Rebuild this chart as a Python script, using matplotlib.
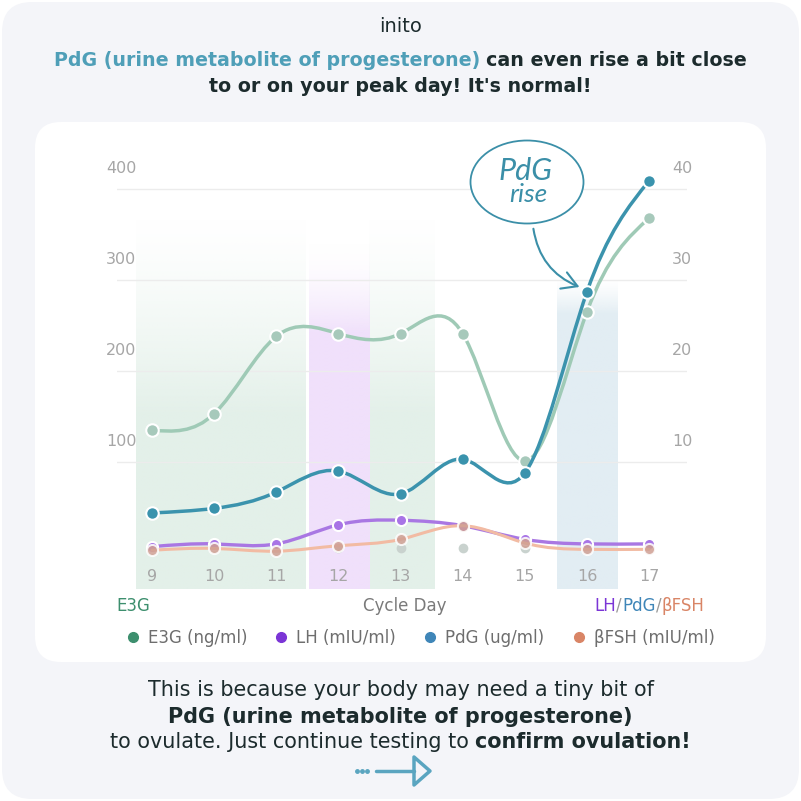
import numpy as np
import matplotlib
matplotlib.use("Agg")
import matplotlib.pyplot as plt
from matplotlib.path import Path
from matplotlib.patches import PathPatch, FancyBboxPatch, Ellipse, FancyArrowPatch, Polygon
from matplotlib.lines import Line2D
from matplotlib.colors import to_rgb

plt.rcParams['font.family'] = ['DejaVu Sans']

# --- data ---
days = [9, 10, 11, 12, 13, 14, 15, 16, 17]
e3g = [135, 153, 238, 241, 241, 241, 101, 265, 368]      # ng/ml, left axis
pdg = [4.4, 4.9, 6.7, 9.0, 6.5, 10.3, 8.8, 28.7, 40.9]   # ug/ml, right axis
lh = [0.7, 1.0, 1.0, 3.1, 3.6, 3.0, 1.5, 1.0, 1.0]       # mIU/ml, right axis
fsh = [0.3, 0.5, 0.2, 0.8, 1.5, 3.0, 1.1, 0.4, 0.4]      # mIU/ml, right axis
grey_days = [12, 13, 14, 15]
grey_vals = [0.6, 0.6, 0.6, 0.6]
left_ticks = [100, 200, 300, 400]
right_ticks = [10, 20, 30, 40]

TEAL = '#4f9fb8'
DARK = '#1c2b2d'
GREY = '#a6a6a6'

W = 801
fig = plt.figure(figsize=(8.01, 8.01), dpi=100)
fig.patch.set_facecolor('white')

# background in pixel coords
bg = fig.add_axes([0, 0, 1, 1], zorder=-10)
bg.set_xlim(0, W); bg.set_ylim(W, 0); bg.axis('off')
bg.add_patch(FancyBboxPatch((2, 2), 797, 797, boxstyle='round,pad=0,rounding_size=30',
                            fc='#f4f5f9', ec='none'))
bg.add_patch(FancyBboxPatch((35, 122), 731, 540, boxstyle='round,pad=0,rounding_size=26',
                            fc='white', ec='none'))

# main axes: pixel box 117..687 x, 140..589 y
ax = fig.add_axes([117 / W, 1 - 589 / W, 570 / W, 449 / W], zorder=1)
ax.patch.set_visible(False)
for s in ax.spines.values():
    s.set_visible(False)
ax.set_xticks([]); ax.set_yticks([])

ax2 = ax.twinx()
ax2.set_ylim(-3.956, 45.38)
for s in ax2.spines.values():
    s.set_visible(False)
ax2.set_yticks([])
ax2.set_zorder(2)
ax2.patch.set_visible(False)

YLIM = (-39.56, 453.8)


def band(x0, x1, y_top, y_full, color, power=1.3):
    y0 = YLIM[0]
    n = 300
    ys = np.linspace(y_top, y0, n)
    alpha = np.clip((y_top - ys) / (y_top - y_full), 0, 1) ** power
    img = np.zeros((n, 1, 4))
    img[:, 0, :3] = to_rgb(color)
    img[:, 0, 3] = alpha
    ax.imshow(img, extent=(x0, x1, y0, y_top), aspect='auto', origin='upper',
              interpolation='bilinear', zorder=0)


band(8.75, 11.48, 369, 150, '#e3f0e9')
band(12.5, 13.56, 369, 150, '#e3f0e9')
band(11.52, 12.5, 344, 241, '#f0e0fb', power=1.8)
band(15.52, 16.49, 300, 262, '#e2edf3')
ax.set_xlim(8.437, 17.61)
ax.set_ylim(*YLIM)

for v in left_ticks:
    ax.axhline(v, color='#ececec', lw=1, zorder=1)
    ax.annotate(str(v), xy=(0, v), xycoords=('axes fraction', 'data'), xytext=(3, 14.4),
                textcoords='offset points', ha='center', va='center', fontsize=11.5, color=GREY)
for v in right_ticks:
    ax2.annotate(str(v), xy=(1, v), xycoords=('axes fraction', 'data'), xytext=(-3.6, 14.4),
                 textcoords='offset points', ha='center', va='center', fontsize=11.5, color=GREY)
for d in days:
    ax.annotate(str(d), xy=(d, 0), xycoords='data', xytext=(0, -16.6),
                textcoords='offset points', ha='center', va='center', fontsize=11.5, color=GREY)


def spline_path(x, y):
    x = np.asarray(x, float); y = np.asarray(y, float)
    n = len(x); h = np.diff(x)
    A = np.zeros((n, n)); r = np.zeros(n)
    A[0, 0] = A[-1, -1] = 1
    for i in range(1, n - 1):
        A[i, i - 1] = h[i - 1]; A[i, i] = 2 * (h[i - 1] + h[i]); A[i, i + 1] = h[i]
        r[i] = 3 * ((y[i + 1] - y[i]) / h[i] - (y[i] - y[i - 1]) / h[i - 1])
    c = np.linalg.solve(A, r)
    b = (y[1:] - y[:-1]) / h - h * (2 * c[:-1] + c[1:]) / 3
    m = np.append(b, b[-1] + (c[-2] + c[-1]) * h[-1])
    verts = [(x[0], y[0])]
    codes = [Path.MOVETO]
    for i in range(n - 1):
        verts += [(x[i] + h[i] / 3, y[i] + m[i] * h[i] / 3),
                  (x[i + 1] - h[i] / 3, y[i + 1] - m[i + 1] * h[i] / 3),
                  (x[i + 1], y[i + 1])]
        codes += [Path.CURVE4] * 3
    return Path(verts, codes)


def series(a, y, line_c, dot_c, lw, ms, z, dot_alpha=1.0):
    a.add_patch(PathPatch(spline_path(days, y), fc='none', ec=line_c, lw=lw,
                          capstyle='round', zorder=z))
    a.plot(days, y, 'o', color=dot_c, ms=ms, mec='white', mew=1.5, zorder=z + 0.5,
           alpha=dot_alpha)


series(ax, e3g, '#9fcab6', '#a7c9bb', 2.5, 9, 3)
ax2.plot(grey_days, grey_vals, 'o', color='#c9d2ce', ms=7, mec='none', zorder=2)
series(ax2, lh, '#a977e3', '#a874e6', 2.4, 8, 3)
series(ax2, fsh, '#f2bba3', '#cf9f93', 2.2, 8, 4, dot_alpha=0.85)
series(ax2, pdg, '#3b93ad', '#3a93ad', 2.5, 9, 6)

# overlay in pixel coords
ov = fig.add_axes([0, 0, 1, 1], zorder=10)
ov.set_xlim(0, W); ov.set_ylim(W, 0); ov.axis('off'); ov.patch.set_visible(False)

# "PdG rise" callout
HAND = '#3b8fa8'
ov.add_patch(Ellipse((527, 182), 113, 83, fc='white', ec=HAND, lw=1.3))
ov.text(525, 171, 'PdG', ha='center', va='center', fontsize=22, color=HAND,
        style='italic', family=['Lato', 'DejaVu Sans'])
ov.text(528, 195, 'rise', ha='center', va='center', fontsize=19, color=HAND,
        style='italic', family=['Lato', 'DejaVu Sans'])
ov.add_patch(FancyArrowPatch((533, 226), (582, 288), connectionstyle='arc3,rad=0.3',
                             arrowstyle='->,head_length=0.6,head_width=0.35',
                             mutation_scale=18, color=HAND, lw=1.5))

renderer = fig.canvas.get_renderer()


def colored_line(parts, y, fontsize, anchor=400.5, ha='center', width=None):
    objs = [ov.text(0, y, s.strip(), color=c, fontsize=fontsize, fontweight=wt,
                    ha='left', va='center') for s, c, wt in parts]

    def measure():
        probe = ov.text(0, 0, 'x x', fontsize=objs[0].get_fontsize())
        probe2 = ov.text(0, 0, 'xx', fontsize=objs[0].get_fontsize())
        sw = probe.get_window_extent(renderer).width - probe2.get_window_extent(renderer).width
        probe.remove(); probe2.remove()
        ws = [t.get_window_extent(renderer).width + (sw if s.startswith(' ') else 0)
              for (s, _, _), t in zip(parts, objs)]
        return sw, ws

    sw, widths = measure()
    if width is not None:
        f = fontsize * width / sum(widths)
        for t in objs:
            t.set_fontsize(f)
        sw, widths = measure()
    total = sum(widths)
    x = anchor - total / 2 if ha == 'center' else anchor - total
    for (s, _, _), t, w in zip(parts, objs, widths):
        t.set_x(x + (sw if s.startswith(' ') else 0))
        x += w
    return objs[0].get_fontsize()


ov.text(400.5, 27, 'inito', ha='center', va='center', fontsize=14, color=DARK)
fs_title = colored_line([('PdG (urine metabolite of progesterone)', TEAL, 'bold'),
                         (' can even rise a bit close', DARK, 'bold')], 60, 14, width=695)
ov.text(400.5, 86, "to or on your peak day! It's normal!", ha='center', va='center',
        fontsize=fs_title, fontweight='bold', color=DARK)

# axis captions
ov.text(133, 606, 'E3G', ha='center', va='center', fontsize=12, color='#3d8f6e')
ov.text(405, 606, 'Cycle Day', ha='center', va='center', fontsize=12, color='#7a7a7a')
colored_line([('LH', '#7b35d6', 'normal'), ('/', '#9a9a9a', 'normal'),
              ('PdG', '#3f86b8', 'normal'), ('/', '#9a9a9a', 'normal'),
              ('βFSH', '#d98566', 'normal')], 606, 12, anchor=704, ha='right')

# legend
handles = [Line2D([], [], ls='none', marker='o', ms=7, color=c)
           for c in ['#3d8f6e', '#7b35d6', '#3f86b8', '#d98566']]
labels = ['E3G (ng/ml)', 'LH (mIU/ml)', 'PdG (ug/ml)', 'βFSH (mIU/ml)']
fig.legend(handles, labels, loc='center', bbox_to_anchor=(421 / W, 1 - 638 / W), ncol=4,
           frameon=False, handlelength=0.6, handletextpad=0.6, columnspacing=1.75,
           fontsize=12, labelcolor='#6e6e6e')

# bottom message
fs_body = colored_line([('to ovulate. Just continue testing to', DARK, 'normal'),
                        (' confirm ovulation!', DARK, 'bold')], 742, 14, width=584)
ov.text(400.5, 690, 'This is because your body may need a tiny bit of', ha='center',
        va='center', fontsize=fs_body, color=DARK)
ov.text(400.5, 717, 'PdG (urine metabolite of progesterone)', ha='center', va='center',
        fontsize=fs_body, fontweight='bold', color=DARK)

# small arrow
ov.plot([357, 362, 367], [771, 771, 771], 'o', ms=2.5, color='#5aa5c0')
ov.plot([376, 414], [771, 771], color='#5aa5c0', lw=2.5, solid_capstyle='round')
ov.add_patch(Polygon([(414, 757), (430, 771), (414, 785)], closed=True, fc='none',
                     ec='#5aa5c0', lw=2.5, joinstyle='round'))

fig.savefig('out.png', dpi=100)
